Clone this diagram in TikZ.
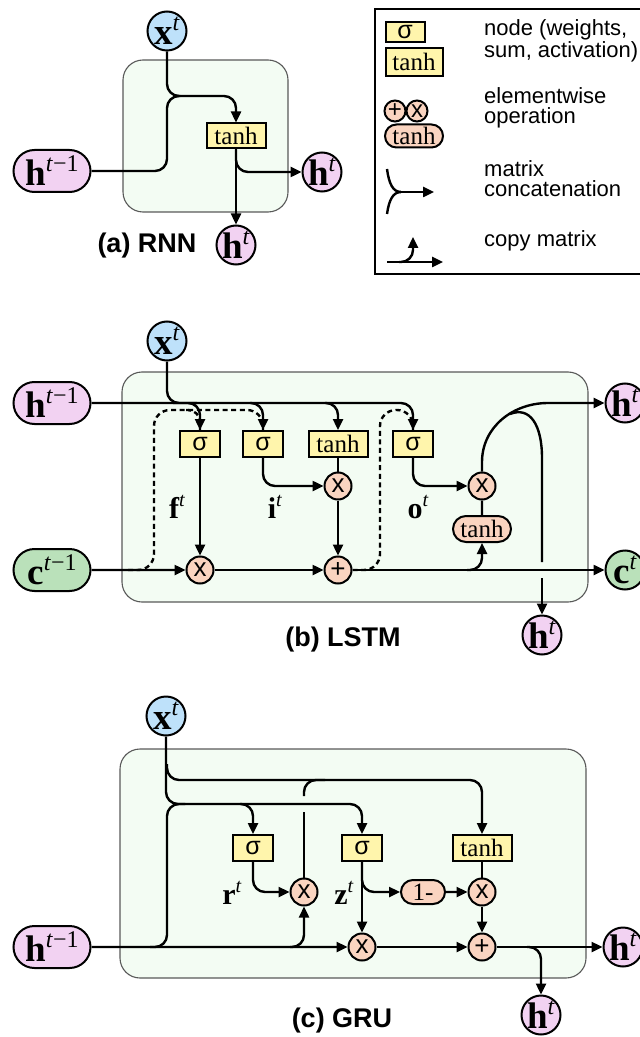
\documentclass[tikz,border=0pt]{standalone}
\usepackage{fontspec}
\setmainfont{Liberation Serif}
\setsansfont{Liberation Sans}
\usetikzlibrary{positioning}
\usetikzlibrary{arrows.meta}
\usetikzlibrary{shapes.misc}
\definecolor{gateyellow}{RGB}{255,245,172}
\definecolor{opsalmon}{RGB}{250,212,192}
\definecolor{hpink}{RGB}{242,210,242}
\definecolor{xblue}{RGB}{190,225,250}
\definecolor{cgreen}{RGB}{186,225,186}
\definecolor{cellfill}{RGB}{243,252,243}

\newcommand{\vect}[2]{{\bfseries #1}\raisebox{0.38em}{\fontsize{12}{12}\selectfont #2}}
\newcommand{\gatelab}[2]{{\bfseries #1}\raisebox{0.38em}{\fontsize{10}{10}\selectfont #2}}

\begin{document}
\begin{tikzpicture}[x=0.5pt, y=-0.5pt, line width=1.2pt,
  >={Triangle[length=5.5pt,width=5pt]},
  cellbox/.style={draw=black!65, line width=0.55pt, fill=cellfill, rounded corners=10pt},
  gatebox/.style={rectangle, draw, line width=1pt, fill=gateyellow, minimum width=20pt,
    minimum height=13pt, inner sep=0pt, font=\sffamily\fontsize{12.5}{12}\selectfont},
  gatewide/.style={gatebox, minimum width=29.5pt, font=\fontsize{12.5}{12}\selectfont},
  opnode/.style={circle, draw, line width=1pt, fill=opsalmon, minimum size=13.5pt,
    inner sep=0pt, font=\sffamily\fontsize{13}{12}\selectfont},
  oppill/.style={rounded rectangle, draw, line width=1pt, fill=opsalmon, minimum width=29pt,
    minimum height=13pt, inner sep=0pt, font=\fontsize{12.5}{12}\selectfont},
  vecnode/.style={circle, draw, line width=1pt, minimum size=19.5pt, inner sep=0pt,
    font=\fontsize{18.5}{19}\selectfont},
  vecpill/.style={rounded rectangle, draw, line width=1pt, minimum width=38.5pt,
    minimum height=21pt, inner sep=0pt, font=\fontsize{18.5}{19}\selectfont},
  gatetag/.style={font=\fontsize{15}{15}\selectfont},
  panellabel/.style={font=\sffamily\bfseries\fontsize{13.5}{15}\selectfont},
  legendtext/.style={anchor=west, align=left, inner sep=0pt, font=\sffamily\fontsize{11}{10}\selectfont},
  peephole/.style={dash pattern=on 2.5pt off 1.8pt, rounded corners=8pt},
  elbow/.style={rounded corners=6pt}
]

\useasboundingbox (0,0) rectangle (639,1037);

%====================================================
% PANEL (a): RNN
%====================================================
\begin{scope}
  % Cell
  \draw[cellbox] (123,60) rectangle (288,212);

  % Vectors in and out
  \node[vecnode, fill=xblue] (xR) at (167,31) {\vect{x}{\textit{t}}};
  \node[vecpill, fill=hpink] (hRin) at (52,171) {\vect{h}{\textit{t}−1}};
  \node[vecnode, fill=hpink] (hRout) at (322,172) {\vect{h}{\textit{t}}};
  \node[vecnode, fill=hpink] (hRdown) at (236,245) {\vect{h}{\textit{t}}};

  % Layer
  \node[gatewide, minimum height=12.5pt] (tanhR) at (236,136) {tanh};

  % Junctions
  \coordinate (cR) at (167,96);
  \coordinate (jR) at (180,96);

  % Concatenation and copy
  \draw[elbow] (xR) |- (jR);
  \draw[elbow] (hRin) -| (cR) -- (jR);
  \draw[->, elbow] (jR) -| (tanhR);
  \draw[->] (tanhR) -- (hRdown);
  \draw[->, elbow] (tanhR.south) |- (hRout);

  \node[panellabel] (capR) at (147,246) {(a) RNN};
\end{scope}

%====================================================
% LEGEND
%====================================================
\begin{scope}
  \draw[line width=1.1pt] (375,9) rectangle (642,274);

  \node[gatebox, minimum width=19.5pt, minimum height=10pt] (lsig) at (405,32) {σ};
  \node[gatewide, minimum width=28.5pt, minimum height=14pt] (ltanh) at (414,62) {tanh};
  \node[opnode, minimum size=10.5pt, font=\sffamily\fontsize{12}{12}\selectfont] (ladd) at (395,111) {+};
  \node[opnode, minimum size=10.5pt, font=\sffamily\fontsize{12}{12}\selectfont] (lmul) at (417,111) {x};
  \node[oppill, minimum height=11.5pt] (ltanhO) at (414,136) {tanh};

  % Concatenation sign
  \coordinate (lcA) at (387,169);
  \coordinate (lcB) at (387,214);
  \coordinate (lcJ) at (401,192);
  \coordinate (lcE) at (434,192);
  \draw (lcA) .. controls (389,184) and (393,192) .. (lcJ);
  \draw (lcB) .. controls (389,200) and (393,192) .. (lcJ);
  \draw[->] (lcJ) -- (lcE);

  % Copy sign
  \coordinate (lpS) at (387,262);
  \coordinate (lpE) at (443,262);
  \coordinate (lpB) at (399,262);
  \coordinate (lpT) at (413,237);
  \draw[->] (lpS) -- (lpE);
  \draw[->, elbow] (lpB) -| (lpT);

  \node[legendtext] (tnode) at (483,41) {node (weights,\\sum, activation)};
  \node[legendtext] (telem) at (483,108) {elementwise\\operation};
  \node[legendtext] (tcat) at (483,179) {matrix\\concatenation};
  \node[legendtext, anchor=base west] (tcopy) at (483,247) {copy matrix};
\end{scope}

%====================================================
% PANEL (b): LSTM
%====================================================
\begin{scope}
  % Cell
  \draw[cellbox] (122,372) rectangle (588,602);

  % Vectors in and out
  \node[vecnode, fill=xblue] (xL) at (167,341) {\vect{x}{\textit{t}}};
  \node[vecpill, fill=hpink] (hLin) at (52,403) {\vect{h}{\textit{t}−1}};
  \node[vecpill, fill=cgreen] (cLin) at (52,570) {\vect{c}{\textit{t}−1}};
  \node[vecnode, fill=hpink] (hLout) at (625,403) {\vect{h}{\textit{t}}};
  \node[vecnode, fill=cgreen] (cLout) at (625,570) {\vect{c}{\textit{t}}};
  \node[vecnode, fill=hpink] (hLdown) at (542,635) {\vect{h}{\textit{t}}};

  % Gates
  \node[gatebox] (sigF) at (200,444) {σ};
  \node[gatebox] (sigI) at (263,444) {σ};
  \node[gatewide] (tanhL) at (338,444) {tanh};
  \node[gatebox] (sigO) at (413,444) {σ};

  % Elementwise operations
  \node[opnode] (mulF) at (200,570) {x};
  \node[opnode] (mulI) at (338,486) {x};
  \node[opnode] (addL) at (338,570) {+};
  \node[opnode] (mulO) at (482,486) {x};
  \node[oppill] (tanhO) at (482,529) {tanh};

  \node[gatetag] (fL) at (177,507) {\gatelab{f}{\textit{t}}};
  \node[gatetag] (iL) at (275,507) {\gatelab{i}{\textit{t}}};
  \node[gatetag] (oL) at (418,507) {\gatelab{o}{\textit{t}}};

  % Junctions
  \coordinate (jF) at (185,403);
  \coordinate (bI) at (250,403);
  \coordinate (bT) at (325,403);
  \coordinate (bO) at (467,570);
  \coordinate (pA) at (128,570);
  \coordinate (pB) at (154,410);
  \coordinate (pF) at (186,410);
  \coordinate (pE) at (380,410);
  \coordinate (aO) at (482,462);
  \coordinate (aH) at (548,403);
  \coordinate (cpL) at (510,414);
  \coordinate (cpV) at (542,458);
  \coordinate (lg1) at (542,562);
  \coordinate (lg2) at (542,578);

  % Hidden state and input into the gates
  \draw[->, elbow] (hLin) -| (sigO);
  \draw[->, elbow] (xL) |- (jF) -| (sigF);
  \draw[->, elbow] (bI) -| (sigI);
  \draw[->, elbow] (bT) -| (tanhL);

  % Peephole connections
  \draw[peephole] (pA) -| (pB) -| (sigI.north);
  \draw[peephole, rounded corners=6pt] (pF) -| (sigF.north);
  \draw[peephole] (addL.east) -| (pE) -| (sigO.north);

  % Cell state
  \draw[->] (sigF) -- (mulF);
  \draw[->] (cLin) -- (mulF);
  \draw[->] (mulF) -- (addL);
  \draw[->, elbow] (sigI) |- (mulI);
  \draw (tanhL) -- (mulI);
  \draw[->] (mulI) -- (addL);

  % Output
  \draw[->, elbow] (sigO) |- (mulO);
  \draw (tanhO) -- (mulO);
  \draw[->, elbow] (bO) -| (tanhO);
  \draw[->] (mulO) -- (aO) .. controls (482,427) and (513,403) .. (aH) -- (hLout);
  \draw (cpL) .. controls (530,406) and (542,425) .. (cpV) -- (lg1);
  \draw[->] (lg2) -- (hLdown);
  \draw[->] (addL) -- (cLout);

  \node[panellabel] (capL) at (343,640) {(b) LSTM};
\end{scope}

%====================================================
% PANEL (c): GRU
%====================================================
\begin{scope}
  % Cell
  \draw[cellbox] (120,749) rectangle (586,978);

  % Vectors in and out
  \node[vecnode, fill=xblue] (xG) at (166,716) {\vect{x}{\textit{t}}};
  \node[vecpill, fill=hpink] (hGin) at (52,947) {\vect{h}{\textit{t}−1}};
  \node[vecnode, fill=hpink] (hGout) at (623,947) {\vect{h}{\textit{t}}};
  \node[vecnode, fill=hpink] (hGdown) at (541,1015) {\vect{h}{\textit{t}}};

  % Gates
  \node[gatebox] (sigR) at (253,848) {σ};
  \node[gatebox] (sigZ) at (362,848) {σ};
  \node[gatewide] (tanhG) at (482,848) {tanh};

  % Elementwise operations
  \node[opnode] (mulR) at (304,892) {x};
  \node[opnode] (mulH) at (362,947) {x};
  \node[oppill, minimum width=22pt, minimum height=12pt] (oneM) at (423,892) {1-};
  \node[opnode] (mulT) at (482,892) {x};
  \node[opnode] (addG) at (482,947) {+};

  \node[gatetag] (rG) at (232,893) {\gatelab{r}{\textit{t}}};
  \node[gatetag] (zG) at (344,893) {\gatelab{z}{\textit{t}}};

  % Junctions
  \coordinate (bX) at (167,764);
  \coordinate (jT) at (200,780);
  \coordinate (cG) at (167,804);
  \coordinate (jG) at (185,804);
  \coordinate (bR) at (240,804);
  \coordinate (bH1) at (150,947);
  \coordinate (bH2) at (290,947);
  \coordinate (rg1) at (304,812);
  \coordinate (rg2) at (304,796);
  \coordinate (jT2) at (325,780);
  \coordinate (bG) at (527,947);

  % Input and hidden state
  \draw[elbow] (xG) |- (jG);
  \draw[->, elbow] (bX) |- (jT) -| (tanhG);
  \draw[elbow] (bH1) -| (cG) -- (jG);
  \draw[->] (hGin) -- (mulH);
  \draw[->, elbow] (bH2) -| (mulR);

  % Reset gate
  \draw (mulR) -- (rg1);
  \draw[elbow] (rg2) |- (jT2);
  \draw[->, elbow] (jG) -| (sigZ);
  \draw[->, elbow] (bR) -| (sigR);
  \draw[->, elbow] (sigR) |- (mulR);

  % Update gate
  \draw[->] (sigZ) -- (mulH);
  \draw[->, elbow] (sigZ.south) |- (oneM);
  \draw[->] (oneM) -- (mulT);
  \draw (tanhG) -- (mulT);
  \draw[->] (mulT) -- (addG);
  \draw[->] (mulH) -- (addG);
  \draw[->] (addG) -- (hGout);
  \draw[->, elbow] (bG) -| (hGdown);

  \node[panellabel] (capG) at (342,1021) {(c) GRU};
\end{scope}

\end{tikzpicture}
\end{document}
